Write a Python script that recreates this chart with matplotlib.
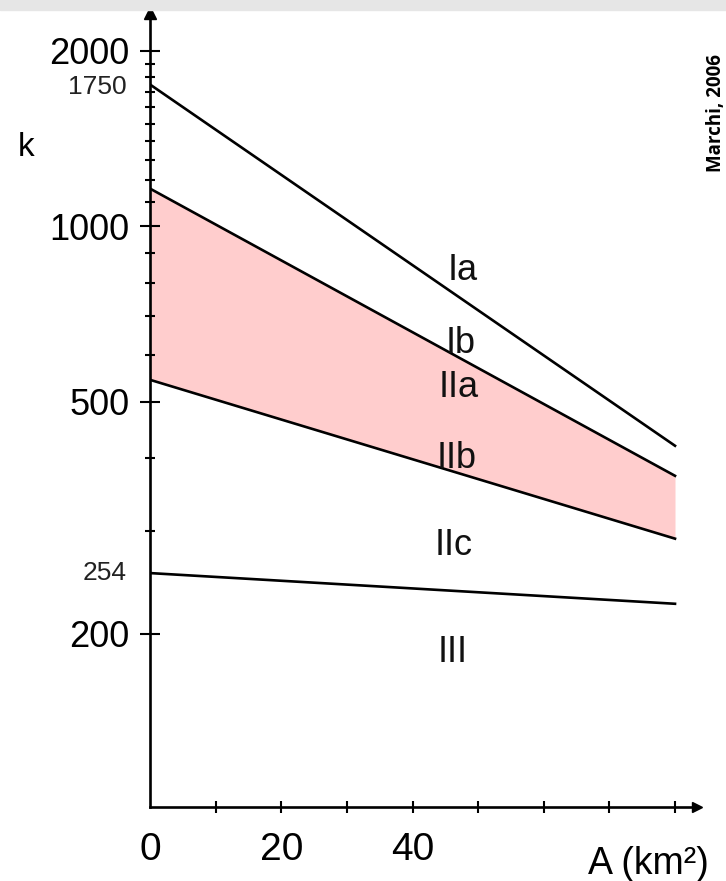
import numpy as np
import matplotlib.pyplot as plt
from matplotlib.patches import Rectangle
from matplotlib.ticker import NullFormatter

plt.rcParams['font.family'] = ['Liberation Sans', 'DejaVu Sans']

# drainage area A (km2) at the two ends of each boundary line
area = [0, 80]
k_ia = [1750, 420]     # upper line (Ia / Ib)
k_iia = [1160, 373]    # top of pink band (Ib / IIa)
k_iib = [545, 291]     # bottom of pink band (IIb / IIc)
k_iii = [254, 225]     # IIc / III

y_major = [200, 500, 1000, 2000]
y_minor = [300, 400, 600, 700, 800, 900, 1100, 1200, 1300, 1400,
           1500, 1600, 1700, 1800, 1900]
x_major = [0, 20, 40]
x_minor = [10, 30, 50, 60, 70, 80]

classes = ['Ia', 'Ib', 'IIa', 'IIb', 'IIc', 'III']
class_x = [45.3, 45.0, 44.0, 43.7, 43.4, 43.9]
class_y = [808, 606, 509, 385, 273, 179]

W, H = 726, 881
fig = plt.figure(figsize=(W / 100, H / 100), dpi=100)
fig.patches.append(Rectangle((0, 1 - 9.5 / H), 1, 9.5 / H, transform=fig.transFigure,
                             color='#e6e6e6', zorder=0))

ax = fig.add_axes([150 / W, (H - 807.3) / H, (697 - 150) / W, (807.3 - 13) / H])
ax.set_yscale('log')
ax.set_xlim(0, 83.35)
ax.set_ylim(100.7, 2321)

ax.fill_between(area, k_iib, k_iia, color='#ffcdcd', lw=0, zorder=1)
for k in (k_ia, k_iia, k_iib, k_iii):
    ax.plot(area, k, color='black', lw=1.9, zorder=3)

for name, x, y in zip(classes, class_x, class_y):
    ax.text(x, y, name, fontsize=26, ha='left', va='baseline', color='#111111')

# axes look
for s in ('top', 'right'):
    ax.spines[s].set_visible(False)
for s in ('left', 'bottom'):
    ax.spines[s].set_linewidth(1.9)

ax.set_yticks(y_major)
ax.set_yticklabels([str(v) for v in y_major])
ax.set_yticks(y_minor, minor=True)
ax.yaxis.set_minor_formatter(NullFormatter())
ax.tick_params(axis='y', which='major', direction='inout', length=14.4, width=1.5,
               pad=7.6, labelsize=26)
ax.tick_params(axis='y', which='minor', direction='inout', length=7.7, width=1.5)

ax.set_xticks(x_major)
ax.set_xticklabels([str(v) for v in x_major])
ax.set_xticks(x_minor, minor=True)
ax.tick_params(axis='x', which='both', direction='inout', length=8.4, width=1.5,
               pad=13.6, labelsize=28)
ax.xaxis.get_major_ticks()[0].tick1line.set_visible(False)

# extra labels on the k axis
for v in (1750, 254):
    ax.annotate(str(v), xy=(0, v), xycoords=('axes fraction', 'data'),
                xytext=(-16.5, -2 if v == 1750 else 0), textcoords='offset points',
                ha='right', va='center', fontsize=19, color='#222222')

# arrow heads
ax.plot([0], [1], marker='^', color='black', markersize=8, transform=ax.transAxes,
        clip_on=False, zorder=5)
ax.plot([1], [0], marker='>', color='black', markersize=7, transform=ax.transAxes,
        clip_on=False, zorder=5)

fig.text(26 / W, 1 - 147 / H, 'k', fontsize=24, ha='center', va='center')
fig.text(588 / W, 1 - 874 / H, 'A (km²)', fontsize=27, ha='left', va='baseline')
fig.text(721.5 / W, 1 - 172 / H, 'Marchi, 2006', fontsize=13.5, fontweight='bold',
         family=['Open Sans', 'DejaVu Sans'], rotation=90, rotation_mode='anchor',
         ha='left', va='baseline')

fig.savefig('out.png', dpi=100)
